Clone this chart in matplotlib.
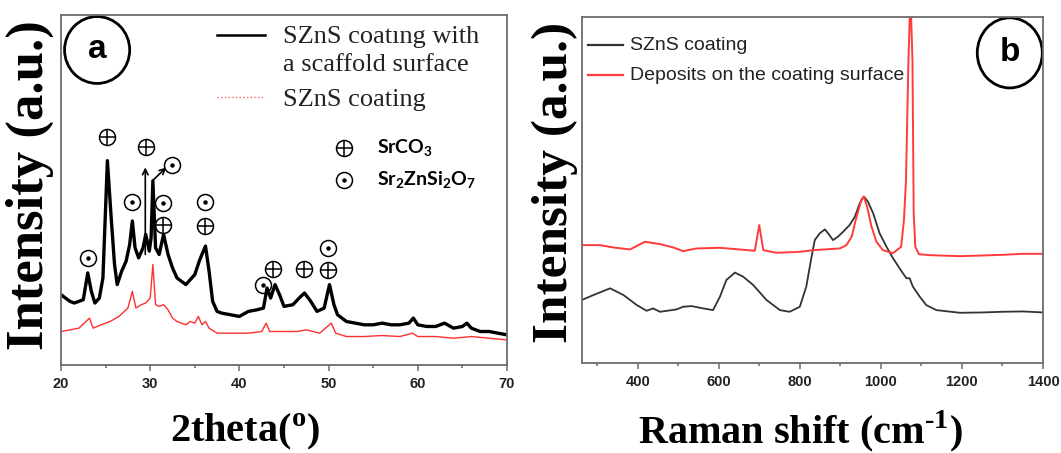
import numpy as np
import matplotlib.pyplot as plt
from matplotlib.patches import Ellipse

plt.rcParams['mathtext.fontset'] = 'custom'
plt.rcParams['mathtext.rm'] = 'Liberation Serif:bold'
plt.rcParams['mathtext.bf'] = 'Liberation Serif:bold'
plt.rcParams['mathtext.sf'] = 'Lato:bold'

# ---- (a) XRD patterns (arbitrary intensity units)
xrd_2theta_black = [20, 20.5, 21, 21.5, 22, 22.5, 23.0, 23.4, 23.8, 24.3, 24.7, 25.2, 25.6, 26.0,
                    26.3, 26.8, 27.3, 27.7, 28.0, 28.3, 28.7, 29.2, 29.5, 29.9, 30.1, 30.3, 30.6,
                    31.0, 31.5, 32.0, 32.5, 33.0, 33.5, 34.0, 34.5, 35.0, 35.5, 35.8, 36.2, 36.6,
                    37.0, 37.5, 38.0, 39.0, 40.0, 41.0, 42.0, 42.7, 43.1, 43.5, 44.0, 44.5, 45.0,
                    46.0, 46.7, 47.3, 48.0, 48.7, 49.5, 50.1, 50.6, 51.0, 52, 53, 54, 55, 56, 57,
                    58, 59, 59.5, 60, 61, 62, 63, 64, 65, 65.5, 66, 67, 68, 69, 70]
xrd_black = [210, 200, 190, 185, 190, 195, 275, 220, 185, 200, 260, 610, 450, 300,
             240, 280, 310, 360, 430, 350, 320, 350, 390, 340, 380, 550, 350,
             330, 390, 330, 290, 260, 250, 240, 255, 270, 310, 330, 355, 280,
             190, 160, 155, 150, 145, 160, 165, 170, 230, 200, 240, 210, 175,
             180, 200, 215, 190, 160, 170, 240, 180, 150, 130, 125, 120, 120, 125, 120,
             120, 125, 140, 120, 115, 115, 125, 110, 115, 125, 110, 100, 100, 95, 90]

xrd_2theta_red = [20, 21, 22, 23.2, 23.6, 24.5, 25.5, 26.5, 27.5, 28.0, 28.4, 29.0, 29.5, 30.0,
                  30.3, 30.6, 31.0, 31.5, 32.0, 32.5, 33.0, 33.5, 34.0, 34.5, 35.0, 35.4, 35.8,
                  36.2, 36.6, 37.5, 39, 41, 42.5, 43.0, 43.4, 45, 46.5, 47.5, 49, 50.3, 50.8,
                  52, 54, 56, 58, 59.4, 60, 62, 64, 66, 68, 70]
xrd_red = [100, 105, 110, 140, 110, 120, 130, 145, 170, 220, 170, 180, 185, 200,
           300, 180, 175, 180, 165, 140, 130, 125, 120, 130, 125, 145, 120,
           130, 110, 95, 95, 95, 100, 125, 100, 100, 100, 105, 95, 125, 95,
           85, 85, 88, 85, 95, 85, 85, 80, 85, 80, 75]

# phase markers
srco3_x = [25.2, 29.5, 31.4, 36.1, 43.8, 47.2, 49.9]
srco3_y = [682, 650, 418, 414, 287, 287, 285]
silicate_x = [23.0, 27.95, 31.4, 32.4, 36.1, 42.7, 49.9]
silicate_y = [318, 486, 484, 598, 486, 240, 350]

# ---- (b) Raman spectra
raman_shift_black = [262, 291, 332, 365, 398, 422, 438, 455, 496, 512, 533, 562, 586, 603, 619,
                     640, 660, 685, 718, 751, 775, 800, 816, 829, 837, 849, 862, 870, 882, 894,
                     907, 923, 936, 948, 958, 968, 981, 997, 1014, 1030, 1046, 1063, 1071, 1079,
                     1096, 1112, 1137, 1195, 1250, 1300, 1350, 1400]
raman_black = [187, 202, 222, 202, 172, 155, 162, 152, 159, 167, 169, 162, 157, 197, 247,
               269, 257, 232, 187, 157, 152, 167, 227, 316, 366, 386, 398, 386, 366, 376,
               391, 411, 436, 476, 496, 481, 446, 386, 346, 312, 282, 252, 252, 227,
               197, 172, 157, 149, 150, 152, 153, 150]

raman_shift_red = [262, 307, 340, 381, 418, 455, 488, 512, 545, 603, 652, 689, 700, 710, 743,
                   800, 833, 899, 915, 928, 940, 952, 958, 966, 977, 989, 1005, 1030, 1050, 1057,
                   1062, 1068, 1073, 1078, 1081, 1085, 1094, 1120, 1195, 1250, 1300, 1350, 1400]
raman_red = [351, 351, 344, 338, 361, 354, 344, 333, 341, 343, 338, 334, 411, 336, 328,
             331, 336, 341, 351, 376, 436, 486, 496, 466, 406, 361, 336, 327, 346, 426,
             545, 900, 1100, 900, 446, 346, 324, 321, 318, 320, 322, 325, 325]

serif = 'Liberation Serif'
frame_col = '#6b6b6b'

fig = plt.figure(figsize=(10.61, 4.53), dpi=100)
H = 453.0
W = 1061.0
ax1 = fig.add_axes([61 / W, 1 - 365 / H, 446 / W, 350 / H])
ax2 = fig.add_axes([581.7 / W, 1 - 362.7 / H, 461.3 / W, 345.4 / H])

for ax in (ax1, ax2):
    for s in ax.spines.values():
        s.set_color(frame_col)
        s.set_linewidth(1.3)
    ax.set_yticks([])
    ax.tick_params(axis='x', which='both', direction='out', color=frame_col, width=1.1)
    ax.tick_params(axis='x', which='major', length=4, pad=5)
    ax.tick_params(axis='x', which='minor', length=2.5)

# ---------------- panel a
ax1.plot(xrd_2theta_black, xrd_black, color='black', lw=2.4)
ax1.plot(xrd_2theta_red, xrd_red, color='#ff3030', lw=1.0)
ax1.set_xlim(20, 70)
ax1.set_ylim(0, 1045)
ax1.set_xticks(np.arange(20, 71, 10))
ax1.set_xticks(np.arange(25, 70, 10), minor=True)

ms = 11.5
ax1.plot(srco3_x, srco3_y, 'o', ms=ms, mfc='none', mec='black', mew=1.1)
ax1.plot(srco3_x, srco3_y, '+', ms=ms, color='black', mew=1.1)
ax1.plot(silicate_x, silicate_y, 'o', ms=ms, mfc='none', mec='black', mew=1.1)
ax1.plot(silicate_x, silicate_y, 'o', ms=2.2, color='black')

# arrows pointing to the overlapping reflections
ax1.annotate('', xy=(29.45, 590), xytext=(29.45, 330),
             arrowprops=dict(arrowstyle='->', lw=1.2, color='black', shrinkA=0, shrinkB=0))
ax1.annotate('', xy=(31.8, 590), xytext=(30.25, 550),
             arrowprops=dict(arrowstyle='->', lw=1.2, color='black', shrinkA=0, shrinkB=0))

# phase key
ax1.plot([51.7], [648], 'o', ms=ms, mfc='none', mec='black', mew=1.1)
ax1.plot([51.7], [648], '+', ms=ms, color='black', mew=1.1)
ax1.plot([51.7], [552], 'o', ms=ms, mfc='none', mec='black', mew=1.1)
ax1.plot([51.7], [552], 'o', ms=2.2, color='black')
key_font = dict(family='Lato', weight='bold', fontsize=14, va='center')
ax1.text(55.4, 648, r'SrCO$_\mathsf{3}$', **key_font)
ax1.text(55.4, 552, r'Sr$_\mathsf{2}$ZnSi$_\mathsf{2}$O$_\mathsf{7}$', **key_font)

# line legend (drawn by hand so the handle sits on the first line)
ax1.plot([37.5, 42.9], [985, 985], color='black', lw=1.8)
ax1.plot([37.5, 42.9], [800, 800], color='#ff6060', lw=1.0, ls=':')
ax1.text(44.9, 961, 'SZnS coatıng with', family=serif, fontsize=19, color='#222222')
ax1.text(44.9, 878, 'a scaffold surface', family=serif, fontsize=19, color='#222222')
ax1.text(44.9, 773, 'SZnS coating', family=serif, fontsize=19, color='#222222')

ax1.add_patch(Ellipse((0.081, 0.9), 0.146, 0.191, transform=ax1.transAxes,
                      fill=False, lw=2.0, ec='black'))
ax1.text(0.081, 0.9, 'a', transform=ax1.transAxes, ha='center', va='center',
         family='Liberation Sans', weight='bold', fontsize=24)

# ---------------- panel b
ax2.plot(raman_shift_black, raman_black, color='#333333', lw=1.3)
ax2.plot(raman_shift_red, raman_red, color='#ff3b3b', lw=1.4)
ax2.set_xlim(262, 1400)
ax2.set_ylim(0, 1031)
ax2.set_xticks(np.arange(400, 1401, 200))
ax2.set_xticks(np.arange(300, 1400, 200), minor=True)

ax2.plot([0.0132, 0.0901], [0.9185, 0.9185], transform=ax2.transAxes, color='#333333', lw=1.6)
ax2.plot([0.0132, 0.0901], [0.832, 0.832], transform=ax2.transAxes, color='#ff3b3b', lw=1.6)
ax2.text(0.105, 0.9185, 'SZnS coating', transform=ax2.transAxes, va='center',
         family='Liberation Sans', fontsize=14, color='#222222')
ax2.text(0.105, 0.832, 'Deposits on the coating surface', transform=ax2.transAxes,
         va='center', family='Liberation Sans', fontsize=14, color='#222222')

ax2.add_patch(Ellipse((0.928, 0.897), 0.141, 0.203, transform=ax2.transAxes,
                      fill=False, lw=2.0, ec='black'))
ax2.text(0.928, 0.897, 'b', transform=ax2.transAxes, ha='center', va='center',
         family='Liberation Sans', weight='bold', fontsize=24)

for ax in (ax1, ax2):
    for lab in ax.get_xticklabels():
        lab.set_family('Liberation Sans')
        lab.set_weight('bold')
        lab.set_fontsize(10.5)
        lab.set_color('#222222')

# axis titles
fig.text(30 / W, 1 - 185 / H, 'Intensity (a.u.)', rotation=90, ha='center', va='center',
         family=serif, weight='bold', fontsize=38)
fig.text(555 / W, 1 - 182 / H, 'Intensity (a.u.)', rotation=90, ha='center', va='center',
         family=serif, weight='bold', fontsize=37)
fig.text(245 / W, 1 - 431 / H, r'2theta($^{\mathrm{o}}$)', ha='center', va='center',
         family=serif, weight='bold', fontsize=29)
fig.text(800 / W, 1 - 431 / H, r'Raman shift (cm$^{\text{-}1}$)', ha='center', va='center',
         family=serif, weight='bold', fontsize=29)

fig.savefig('out.png', dpi=100)
